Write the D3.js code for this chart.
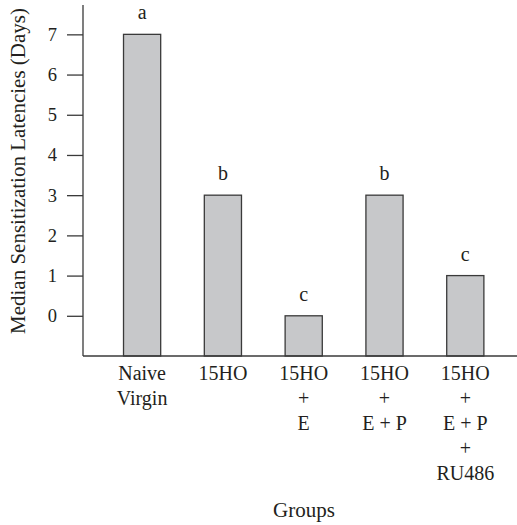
<!DOCTYPE html>
<html lang="en">
<head>
<meta charset="UTF-8">
<title>Median Sensitization Latencies</title>
<script src="https://d3js.org/d3.v7.min.js"></script>
<style>
  html, body { margin: 0; padding: 0; background: #fff; }
  svg { display: block; }
  text { font-family: "Liberation Serif", "Times New Roman", serif; fill: #231f20; }
</style>
</head>
<body>
<svg width="517" height="525"></svg>
<script>
    // data
    const groups = ["Naive Virgin", "15HO", "15HO + E", "15HO + E + P", "15HO + E + P + RU486"];
    const groupLines = [
        ["Naive", "Virgin"],
        ["15HO"],
        ["15HO", "+", "E"],
        ["15HO", "+", "E + P"],
        ["15HO", "+", "E + P", "+", "RU486"]
    ];
    const latencies = [7, 3, 0, 3, 1];
    const letters = ["a", "b", "c", "b", "c"];
    const yTicks = [0, 1, 2, 3, 4, 5, 6, 7];

    let svg = d3.select("svg");

    const axisX = 83, axisBottom = 356, axisTop = 5, rightEdge = 517;

    let y = d3.scaleLinear()
        .domain([-1, 7.73])
        .range([axisBottom, axisTop]);

    let x = d3.scaleBand()
        .domain(groups)
        .range([101.7, 505.7])
        .paddingInner(0.54)
        .paddingOuter(0.27);

    // bars, they start at the bottom of the axis
    svg.append("g")
        .selectAll("rect")
        .data(latencies)
        .enter()
        .append("rect")
        .attr("x", (d, i) => x(groups[i]))
        .attr("width", x.bandwidth())
        .attr("y", d => y(d))
        .attr("height", d => y(-1) - y(d))
        .attr("fill", "#c7c8ca")
        .attr("stroke", "#3a3a3a")
        .attr("stroke-width", 1.3);

    // significance letters
    svg.append("g")
        .selectAll("text")
        .data(letters)
        .enter()
        .append("text")
        .attr("x", (d, i) => x(groups[i]) + x.bandwidth() / 2)
        .attr("y", (d, i) => y(latencies[i]) - 15)
        .attr("text-anchor", "middle")
        .style("font-size", "20px")
        .text(d => d);

    // y axis
    let yAxis = svg.append("g")
        .attr("transform", `translate(${axisX},0)`)
        .call(d3.axisLeft(y).tickValues(yTicks).tickSize(16).tickPadding(10).tickFormat(d3.format("d")));
    yAxis.select(".domain").remove();
    yAxis.selectAll(".tick line").attr("stroke", "#3a3a3a").attr("stroke-width", 1.3);
    yAxis.selectAll(".tick text")
        .style("font-family", '"Liberation Serif", serif')
        .style("font-size", "18.5px")
        .attr("fill", "#231f20");

    // axis lines
    svg.append("line")
        .attr("x1", axisX).attr("x2", axisX)
        .attr("y1", axisTop).attr("y2", axisBottom)
        .attr("stroke", "#3a3a3a").attr("stroke-width", 1.3);
    svg.append("line")
        .attr("x1", axisX).attr("x2", rightEdge)
        .attr("y1", axisBottom).attr("y2", axisBottom)
        .attr("stroke", "#3a3a3a").attr("stroke-width", 1.3);

    // multi-line group labels
    let labels = svg.append("g")
        .selectAll("text")
        .data(groupLines)
        .enter()
        .append("text")
        .attr("text-anchor", "middle")
        .style("font-size", "20px")
        .attr("transform", (d, i) => `translate(${x(groups[i]) + x.bandwidth() / 2},380)`);
    labels.selectAll("tspan")
        .data(d => d)
        .enter()
        .append("tspan")
        .attr("x", 0)
        .attr("y", (d, j) => j * 25)
        .text(d => d);

    // axis titles
    svg.append("text")
        .attr("x", 304)
        .attr("y", 517)
        .attr("text-anchor", "middle")
        .style("font-size", "21px")
        .text("Groups");

    svg.append("text")
        .attr("transform", "translate(25,171) rotate(-90)")
        .attr("text-anchor", "middle")
        .style("font-size", "21px")
        .text("Median Sensitization Latencies (Days)");
</script>
</body>
</html>
